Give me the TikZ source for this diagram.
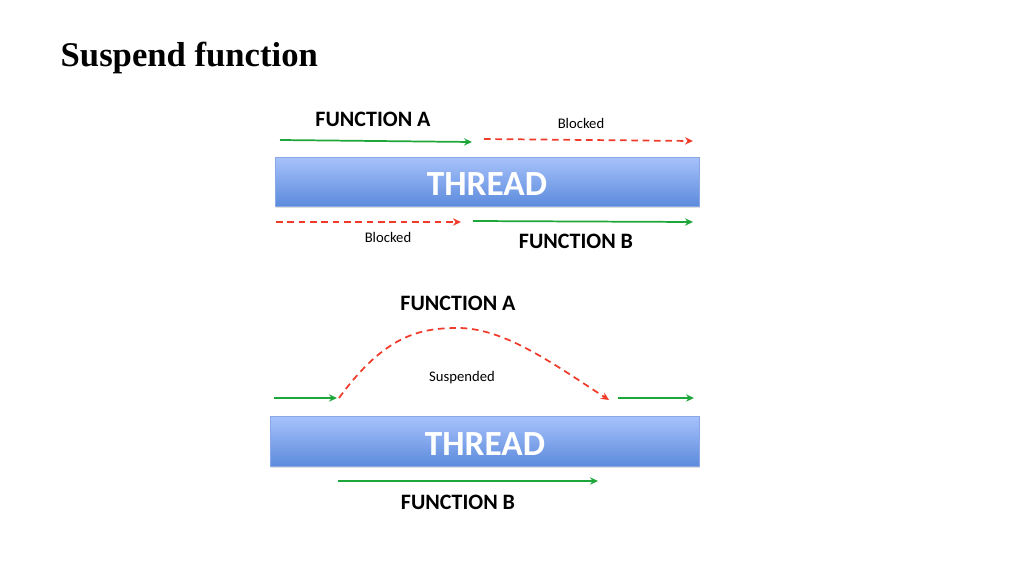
\documentclass[tikz,border=0pt]{standalone}
\usepackage{fontspec}
\setmainfont{Carlito}
\newfontfamily\titlefont{Liberation Serif}
\usetikzlibrary{arrows.meta,shadows}
\definecolor{gA}{HTML}{1FA63A}
\definecolor{rB}{HTML}{F03A2A}
\definecolor{boxtop}{HTML}{A7C2FB}
\definecolor{boxbot}{HTML}{5C8BDC}
\definecolor{boxedge}{HTML}{8AA8E6}
\tikzset{
  gline/.style={draw=gA,line width=1.3pt,-{Stealth[length=6pt,width=5.5pt]}},
  rline/.style={draw=rB,line width=1.3pt,dash pattern=on 5pt off 3.5pt,-{Stealth[length=6pt,width=5.5pt]}},
  threadbox/.style={draw=boxedge,line width=0.5pt,top color=boxtop,bottom color=boxbot,
    drop shadow={shadow xshift=0.8pt,shadow yshift=-1.2pt,opacity=0.25}},
  threadtext/.style={font=\fontsize{26.5}{30}\selectfont\bfseries,text=white,inner sep=0pt},
  flabel/.style={font=\fontsize{16.5}{19}\selectfont\bfseries,text=black},
  slabel/.style={font=\fontsize{11}{13}\selectfont,text=black},
}
\begin{document}
\begin{tikzpicture}[x=0.75pt,y=-0.75pt]
\useasboundingbox (0,0) rectangle (1025,575);
\node[anchor=base west,font=\titlefont\fontsize{26}{30}\selectfont\bfseries] (title) at (56,66) {Suspend function};
% top diagram
\node[threadbox,minimum width=424*0.75pt,minimum height=49*0.75pt] (t1) at (487,181.5) {};
\node[threadtext,anchor=base] (t1txt) at (487,195) {THREAD};
\coordinate (a1s) at (280,140); \coordinate (a1e) at (472,142);
\coordinate (b1s) at (484,139); \coordinate (b1e) at (693,141);
\coordinate (b2s) at (276,222); \coordinate (b2e) at (461,222);
\coordinate (a2s) at (473,221); \coordinate (a2e) at (693,222);
\draw[gline] (a1s) -- (a1e);
\draw[rline] (b1s) -- (b1e);
\draw[rline] (b2s) -- (b2e);
\draw[gline] (a2s) -- (a2e);
\node[flabel] (fa1) at (373,119) {FUNCTION A};
\node[slabel] (bl1) at (581,123) {Blocked};
\node[slabel] (bl2) at (388,237) {Blocked};
\node[flabel] (fb1) at (576,241) {FUNCTION B};
% bottom diagram
\node[threadbox,minimum width=429*0.75pt,minimum height=50*0.75pt] (t2) at (484.5,441) {};
\node[threadtext,anchor=base] (t2txt) at (485,455) {THREAD};
\coordinate (c1s) at (274,398); \coordinate (c1e) at (337,398);
\coordinate (cs) at (339,398); \coordinate (cp) at (458,328); \coordinate (ce) at (609,400);
\coordinate (c2s) at (618,398); \coordinate (c2e) at (694,398);
\coordinate (d1s) at (338,481); \coordinate (d1e) at (598,481);
\draw[gline] (c1s) -- (c1e);
\draw[rline] (cs) .. controls (385,335) and (420,328) .. (cp) .. controls (505,328) and (555,365) .. (ce);
\draw[gline] (c2s) -- (c2e);
\draw[gline] (d1s) -- (d1e);
\node[flabel] (fa2) at (458,303) {FUNCTION A};
\node[slabel] (sus) at (462,378) {Suspended};
\node[flabel] (fb2) at (458,502) {FUNCTION B};
\end{tikzpicture}
\end{document}
